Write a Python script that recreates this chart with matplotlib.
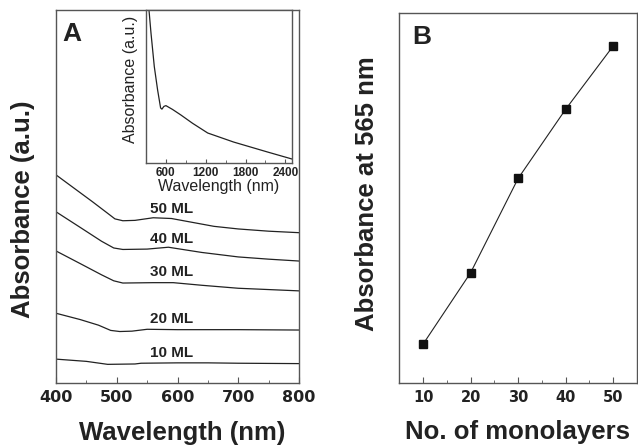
import matplotlib.pyplot as plt
import numpy as np
from matplotlib.ticker import MultipleLocator

# panel A: absorbance spectra (arbitrary units)
wl_50 = [400, 430, 460, 485, 497, 510, 530, 560, 590, 620, 660, 700, 750, 800]
ab_50 = [0.558, 0.522, 0.486, 0.455, 0.440, 0.435, 0.436, 0.443, 0.441, 0.432, 0.420, 0.413, 0.407, 0.403]
wl_40 = [400, 440, 475, 495, 510, 550, 585, 640, 700, 750, 800]
ab_40 = [0.459, 0.417, 0.380, 0.362, 0.358, 0.359, 0.364, 0.350, 0.338, 0.332, 0.327]
wl_30 = [400, 440, 475, 495, 510, 560, 593, 640, 700, 800]
ab_30 = [0.354, 0.320, 0.290, 0.274, 0.268, 0.269, 0.269, 0.262, 0.254, 0.247]
wl_20 = [400, 440, 470, 490, 505, 525, 550, 600, 700, 800]
ab_20 = [0.187, 0.170, 0.155, 0.141, 0.138, 0.139, 0.144, 0.143, 0.143, 0.142]
wl_10 = [400, 450, 485, 530, 540, 600, 650, 700, 800]
ab_10 = [0.064, 0.058, 0.050, 0.051, 0.053, 0.054, 0.054, 0.053, 0.052]

curves = [(wl_50, ab_50), (wl_40, ab_40), (wl_30, ab_30), (wl_20, ab_20), (wl_10, ab_10)]
curve_labels = ["50 ML", "40 ML", "30 ML", "20 ML", "10 ML"]
label_y = [0.466, 0.386, 0.297, 0.172, 0.080]

# inset: full range spectrum
wl_inset = [330, 345, 375, 425, 475, 520, 540, 570, 600, 700, 825, 1000, 1230, 1620, 2130, 2500]
ab_inset = [1.1, 1.0, 0.85, 0.63, 0.477, 0.36, 0.352, 0.37, 0.375, 0.35, 0.314, 0.26, 0.196, 0.137, 0.072, 0.026]

# panel B
layers = [10, 20, 30, 40, 50]
abs_565 = [0.105, 0.298, 0.553, 0.740, 0.911]

bold_sans = "Liberation Sans"
tick_font = "DejaVu Sans"
spine_col = "#555555"

fig = plt.figure(figsize=(6.38, 4.45), dpi=100)

def style(ax, tick_size, family):
    for s in ax.spines.values():
        s.set_color(spine_col)
        s.set_linewidth(1.0)
    ax.tick_params(axis="x", which="both", direction="in", colors=spine_col)
    ax.tick_params(axis="x", which="major", length=4, pad=5)
    ax.tick_params(axis="x", which="minor", length=2)
    ax.tick_params(axis="y", left=False, labelleft=False, which="both")
    for lab in ax.get_xticklabels():
        lab.set_fontfamily(family)
        lab.set_fontweight("bold")
        lab.set_fontsize(tick_size)
        lab.set_color("#222222")

# ---- panel A
axA = fig.add_axes([56/638, 62/445, 243/638, 373/445])
for (x, y) in curves:
    axA.plot(x, y, color="#222222", lw=0.9)
for lab, ly in zip(curve_labels, label_y):
    axA.text(590, ly, lab, ha="center", va="center", fontsize=11,
             fontweight="bold", family=bold_sans, color="#222222")
axA.set_xlim(400, 800)
axA.set_ylim(0, 1)
axA.set_xticks([400, 500, 600, 700, 800])
axA.xaxis.set_minor_locator(MultipleLocator(50))
style(axA, 11.5, tick_font)
axA.set_xlabel("Wavelength (nm)", fontsize=18.5, fontweight="bold", family=bold_sans,
               color="#222222", va="center")
axA.xaxis.set_label_coords(0.52, -0.135)
axA.set_ylabel("Absorbance (a.u.)", fontsize=18.5, fontweight="bold", family=bold_sans,
               color="#222222", va="center")
axA.yaxis.set_label_coords(-0.136, 0.466)
axA.text(0.066, 0.936, "A", transform=axA.transAxes, ha="center", va="center",
         fontsize=19, fontweight="bold", family=bold_sans, color="#222222")

# ---- inset
axI = fig.add_axes([146/638, 282/445, 146/638, 153/445])
axI.plot(wl_inset, ab_inset, color="#222222", lw=0.9)
axI.set_xlim(300, 2500)
axI.set_ylim(0, 1)
axI.set_xticks([600, 1200, 1800, 2400])
axI.xaxis.set_minor_locator(MultipleLocator(300))
style(axI, 8.5, bold_sans)
axI.tick_params(axis="x", which="major", length=3, pad=3)
axI.set_xlabel("Wavelength (nm)", fontsize=11.5, family=bold_sans, color="#222222", va="center")
axI.xaxis.set_label_coords(0.497, -0.155)
axI.set_ylabel("Absorbance (a.u.)", fontsize=11.5, family=bold_sans, color="#222222", va="center")
axI.yaxis.set_label_coords(-0.103, 0.549)

# ---- panel B
axB = fig.add_axes([399.3/638, 62/445, 237.7/638, 370/445])
axB.plot(layers, abs_565, color="#222222", lw=0.8, marker="s", ms=5.3,
         mfc="#111111", mec="#111111")
axB.set_xlim(5, 55)
axB.set_ylim(0, 1)
axB.set_xticks(layers)
axB.xaxis.set_minor_locator(MultipleLocator(5))
style(axB, 10.5, tick_font)
axB.set_xlabel("No. of monolayers", fontsize=18.5, fontweight="bold", family=bold_sans,
               color="#222222", va="center")
axB.xaxis.set_label_coords(0.497, -0.132)
axB.set_ylabel("Absorbance at 565 nm", fontsize=18.5, fontweight="bold", family=bold_sans,
               color="#222222", va="center")
axB.yaxis.set_label_coords(-0.137, 0.511)
axB.text(0.093, 0.934, "B", transform=axB.transAxes, ha="center", va="center",
         fontsize=19, fontweight="bold", family=bold_sans, color="#222222")

plt.savefig("out.png", dpi=100)
